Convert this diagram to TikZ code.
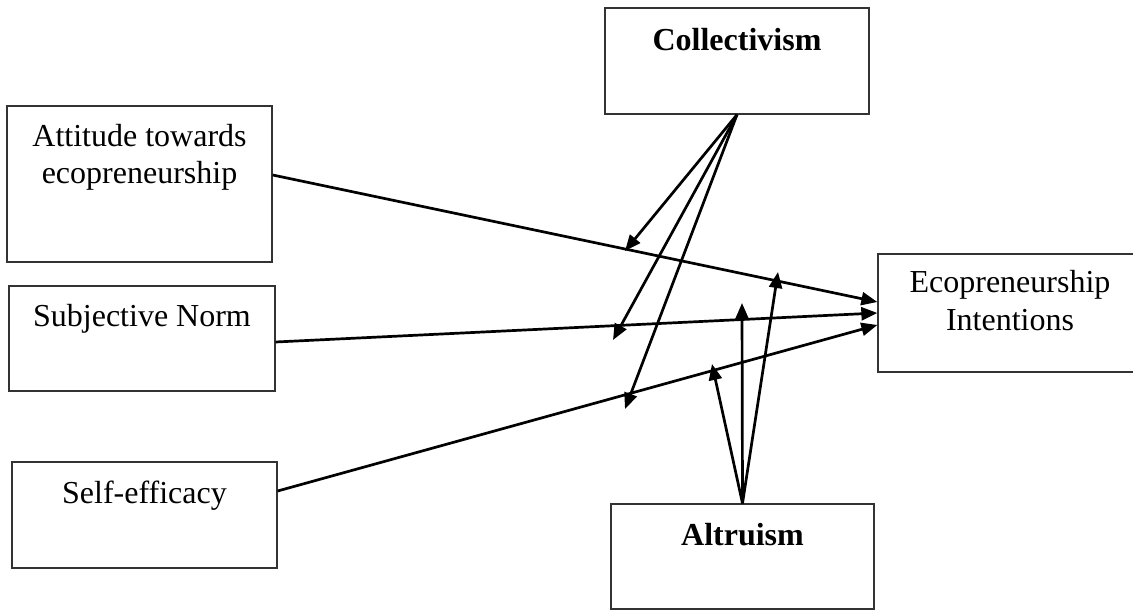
\documentclass[tikz,border=0pt]{standalone}
\usepackage{fontspec}
\setmainfont{Liberation Serif}
\usetikzlibrary{arrows.meta, positioning}

\begin{document}
\begin{tikzpicture}[
  x=1pt, y=1pt,
  >={Triangle[length=16pt, width=13pt]},
  varbox/.style={draw=black!80, line width=1.3pt, rectangle, inner sep=0pt},
  varlabel/.style={anchor=north, inner sep=0pt, align=center, font=\fontsize{32}{37}\selectfont},
  modlabel/.style={varlabel, font=\fontsize{32}{37}\selectfont\bfseries},
  link/.style={->, line width=2.7pt, black}
]
\useasboundingbox (0,0) rectangle (1133,610);

% boxes
\node[varbox, minimum width=264pt, minimum height=106pt] (Coll) at (737,549)   {};
\node[varbox, minimum width=265pt, minimum height=156pt] (Att)  at (139.5,426) {};
\node[varbox, minimum width=266pt, minimum height=105pt] (SN)   at (142,271.5) {};
\node[varbox, minimum width=265pt, minimum height=106pt] (SE)   at (144.5,95)  {};
\node[varbox, minimum width=263pt, minimum height=105pt] (Alt)  at (742.5,53.5) {};
\node[varbox, minimum width=264pt, minimum height=118pt] (Eco)  at (1010,297)  {};

% texts
\node[modlabel] (CollTxt) [below=21pt of Coll.north] {Collectivism};
\node[varlabel] (AttTxt)  [below=19pt of Att.north]  {Attitude towards\\ecopreneurship};
\node[varlabel] (SNTxt)   [below=19pt of SN.north]   {Subjective Norm};
\node[varlabel] (SETxt)   [below=19pt of SE.north]   {Self-efficacy};
\node[modlabel] (AltTxt)  [below=20pt of Alt.north]  {Altruism};
\node[varlabel, font=\fontsize{32}{38}\selectfont] (EcoTxt) [below=17pt of Eco.north] {Ecopreneurship\\Intentions};

% free ends of the moderating arrows
\coordinate (CollA) at (625,359);
\coordinate (CollB) at (613,270);
\coordinate (CollC) at (625,201);
\coordinate (AltA)  at (712,246);
\coordinate (AltB)  at (742,307);
\coordinate (AltC)  at (778,338);

% direct effects
\draw[link] ([yshift=9pt]Att.east) -- ([yshift=11pt]Eco.west);
\draw[link] ([yshift=-3.5pt]SN.east) -- (Eco.west);
\draw[link] ([yshift=24pt]SE.east) -- ([yshift=-12pt]Eco.west);

% collectivism
\draw[link] (Coll.south) -- (CollA);
\draw[link] (Coll.south) -- (CollB);
\draw[link] (Coll.south) -- (CollC);

% altruism
\draw[link] (Alt.north) -- (AltA);
\draw[link] (Alt.north) -- (AltB);
\draw[link] (Alt.north) -- (AltC);

\end{tikzpicture}
\end{document}
